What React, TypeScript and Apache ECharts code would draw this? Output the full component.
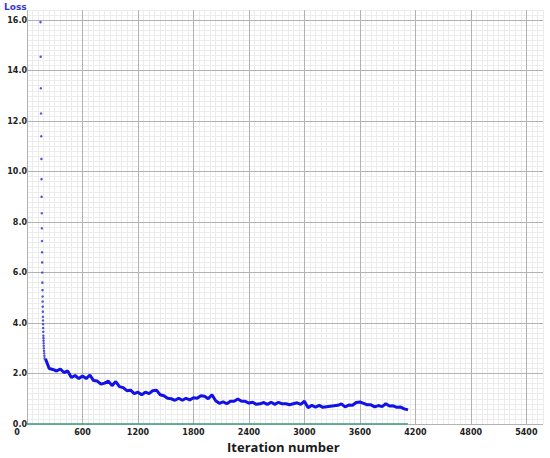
import React, { useEffect, useRef } from "react";
import * as echarts from "echarts";

const dropIters = [146, 148, 150, 152, 154, 156, 157, 158, 160, 161, 162, 163, 164, 165, 166, 167, 168, 169, 170, 171, 172, 173, 174, 175, 176, 177, 178, 179, 180, 181, 182, 184, 186, 188, 190];
const dropLoss = [15.92, 14.55, 13.3, 12.3, 11.4, 10.5, 9.7, 9.0, 8.35, 7.75, 7.25, 6.8, 6.4, 6.0, 5.6, 5.3, 5.05, 4.85, 4.65, 4.45, 4.25, 4.1, 3.95, 3.8, 3.65, 3.5, 3.4, 3.3, 3.2, 3.1, 3.0, 2.9, 2.8, 2.7, 2.6];

const lossIters = [
  200, 240, 280, 320, 360, 400, 440, 480, 520, 560, 600, 640, 680, 720, 760, 800, 840, 880, 920, 960,
  1000, 1040, 1080, 1120, 1160, 1200, 1240, 1280, 1320, 1360, 1400, 1440, 1480, 1520, 1560, 1600, 1640, 1680, 1720, 1760,
  1800, 1840, 1880, 1920, 1960, 2000, 2040, 2080, 2120, 2160, 2200, 2240, 2280, 2320, 2360, 2400, 2440, 2480, 2520, 2560,
  2600, 2640, 2680, 2720, 2760, 2800, 2840, 2880, 2920, 2960, 3000, 3040, 3080, 3120, 3160, 3200, 3240, 3280, 3320, 3360,
  3400, 3440, 3480, 3520, 3560, 3600, 3640, 3680, 3720, 3760, 3800, 3840, 3880, 3920, 3960, 4000, 4040, 4080, 4120,
];
const lossValues = [
  2.58, 2.2, 2.16, 2.1, 2.18, 2.04, 2.1, 1.84, 1.92, 1.8, 1.9, 1.8, 1.94, 1.72, 1.7, 1.58, 1.62, 1.7, 1.52, 1.68,
  1.48, 1.44, 1.32, 1.34, 1.2, 1.26, 1.16, 1.26, 1.2, 1.32, 1.34, 1.16, 1.12, 1.02, 1.0, 0.94, 1.02, 0.94, 1.02, 0.95,
  1.04, 1.02, 1.12, 1.1, 1.0, 1.16, 0.92, 0.82, 0.88, 0.8, 0.9, 0.9, 0.99, 0.9, 0.9, 0.83, 0.86, 0.78, 0.8, 0.85,
  0.78, 0.86, 0.78, 0.86, 0.8, 0.8, 0.76, 0.8, 0.84, 0.78, 0.9, 0.64, 0.74, 0.67, 0.74, 0.66, 0.68, 0.7, 0.72, 0.74,
  0.8, 0.68, 0.75, 0.74, 0.85, 0.87, 0.82, 0.76, 0.76, 0.68, 0.73, 0.69, 0.8, 0.71, 0.72, 0.66, 0.67, 0.6, 0.56,
];

const baseIters = [0, 4120];
const baseValues = [0, 0];

const labelFont = { fontFamily: "DejaVu Sans", fontWeight: "bold" as const, fontSize: 8, color: "#222" };

export default function App() {
  const ref = useRef<HTMLDivElement>(null);
  useEffect(() => {
    if (!ref.current) return;
    const chart = echarts.init(ref.current, undefined, { renderer: "svg" });
    const hiddenAxisParts = {
      axisLine: { show: false },
      axisTick: { show: false },
      axisLabel: { show: false },
    };
    chart.setOption({
      animation: false,
      backgroundColor: "#fff",
      grid: { left: 27, right: 7, top: 10, bottom: 34, containLabel: false },
      xAxis: [
        {
          type: "value",
          min: 0,
          max: 5580,
          interval: 600,
          z: 1,
          axisLine: { show: false },
          axisTick: { show: false },
          axisLabel: {
            ...labelFont,
            margin: 4,
            showMaxLabel: false,
            formatter: (v: number) => (v === 0 ? "{z|0}" : String(v)),
            rich: { z: { ...labelFont, padding: [0, 20, 0, 0] } },
          },
          splitLine: { show: true, showMaxLine: false, lineStyle: { color: "#b2b2b2", width: 1 } },
        },
        {
          type: "value",
          min: 0,
          max: 5580,
          interval: 60,
          z: 0,
          ...hiddenAxisParts,
          splitLine: { show: true, lineStyle: { color: "#ececec", width: 1 } },
        },
      ],
      yAxis: [
        {
          type: "value",
          min: 0,
          max: 16.4,
          interval: 2,
          z: 1,
          axisLine: { show: false },
          axisTick: { show: false },
          axisLabel: {
            ...labelFont,
            margin: 0,
            showMaxLabel: false,
            formatter: (v: number) => v.toFixed(1),
          },
          splitLine: { show: true, showMaxLine: false, lineStyle: { color: "#b2b2b2", width: 1 } },
        },
        {
          type: "value",
          min: 0,
          max: 16.4,
          interval: 0.2,
          z: 0,
          ...hiddenAxisParts,
          splitLine: { show: true, lineStyle: { color: "#ececec", width: 1 } },
        },
      ],
      graphic: [
        {
          type: "text",
          left: 4,
          top: 2,
          style: { text: "Loss", font: "bold 9px 'DejaVu Sans'", fill: "#3838d2" },
        },
        {
          type: "text",
          left: 227,
          top: 440,
          style: { text: "Iteration number", font: "bold 13px 'Open Sans'", fill: "#1a1a1a" },
        },
      ],
      series: [
        {
          type: "line",
          data: baseIters.map((x, i) => [x, baseValues[i]]),
          showSymbol: false,
          lineStyle: { color: "#2f9b7a", width: 1.5 },
          z: 3,
        },
        {
          type: "scatter",
          data: dropIters.map((x, i) => [x, dropLoss[i]]),
          symbolSize: 2.5,
          itemStyle: { color: "#2a2ad6" },
          z: 4,
        },
        {
          type: "line",
          data: lossIters.map((x, i) => [x, lossValues[i]]),
          showSymbol: false,
          lineStyle: { color: "#1212e8", width: 3 },
          z: 5,
        },
      ],
    });
    return () => chart.dispose();
  }, []);
  return <div ref={ref} style={{ position: "absolute", left: 0, top: 0, width: 550, height: 458 }} />;
}
